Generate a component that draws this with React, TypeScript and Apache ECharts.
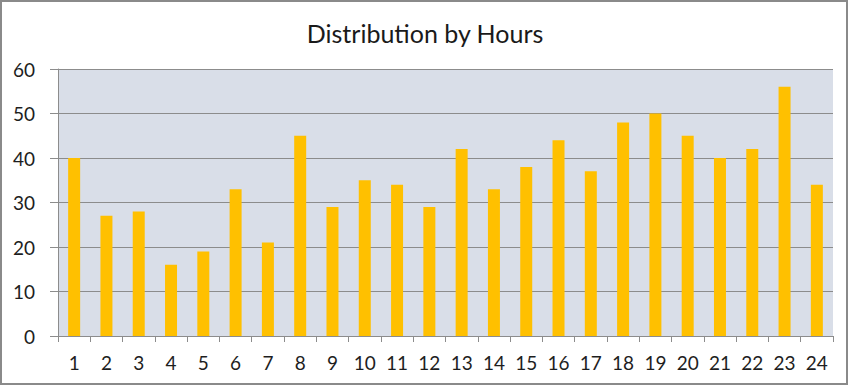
import React, { useEffect, useRef } from "react";
import * as echarts from "echarts";

const hours = ["1","2","3","4","5","6","7","8","9","10","11","12","13","14","15","16","17","18","19","20","21","22","23","24"];
const counts = [40, 27, 28, 16, 19, 33, 21, 45, 29, 35, 34, 29, 42, 33, 38, 44, 37, 48, 50, 45, 40, 42, 56, 34];
const titleText = "Distribution by Hours";

export default function App() {
  const ref = useRef<HTMLDivElement>(null);
  useEffect(() => {
    document.body.style.margin = "0";
    const chart = echarts.init(ref.current!, null, { renderer: "svg" });
    const font = "Lato, 'Open Sans', sans-serif";
    chart.setOption({
      animation: false,
      backgroundColor: "#ffffff",
      title: {
        text: titleText,
        left: "center",
        top: 15,
        textStyle: { fontFamily: font, fontSize: 25, fontWeight: "normal", color: "#1a1a1a" },
      },
      graphic: [
        {
          type: "rect",
          shape: { x: 1, y: 1, width: 846, height: 383 },
          style: { fill: "none", stroke: "#8a8a8a", lineWidth: 2 },
          silent: true,
        },
      ],
      grid: {
        left: 58,
        right: 17,
        top: 69,
        bottom: 50,
        show: true,
        backgroundColor: "#d9dee8",
        borderWidth: 0,
      },
      xAxis: {
        type: "category",
        data: hours,
        boundaryGap: true,
        axisLine: { show: true, lineStyle: { color: "#8c8c8c", width: 1 } },
        axisTick: { show: true, alignWithLabel: false, length: 6, lineStyle: { color: "#8c8c8c" } },
        axisLabel: { fontFamily: font, fontSize: 19, color: "#1e1e1e", margin: 17 },
      },
      yAxis: {
        type: "value",
        min: 0,
        max: 60,
        interval: 10,
        axisLine: { show: true, lineStyle: { color: "#8c8c8c", width: 1 } },
        axisTick: { show: true, length: 8, lineStyle: { color: "#8c8c8c" } },
        axisLabel: { fontFamily: font, fontSize: 19, color: "#1e1e1e", margin: 23 },
        splitLine: { show: true, lineStyle: { color: "#8c8c8c", width: 1 } },
      },
      series: [
        {
          type: "bar",
          data: counts,
          barWidth: 12,
          itemStyle: { color: "#ffc000" },
        },
      ],
    });
    return () => chart.dispose();
  }, []);
  return <div ref={ref} style={{ width: 850, height: 386 }} />;
}
